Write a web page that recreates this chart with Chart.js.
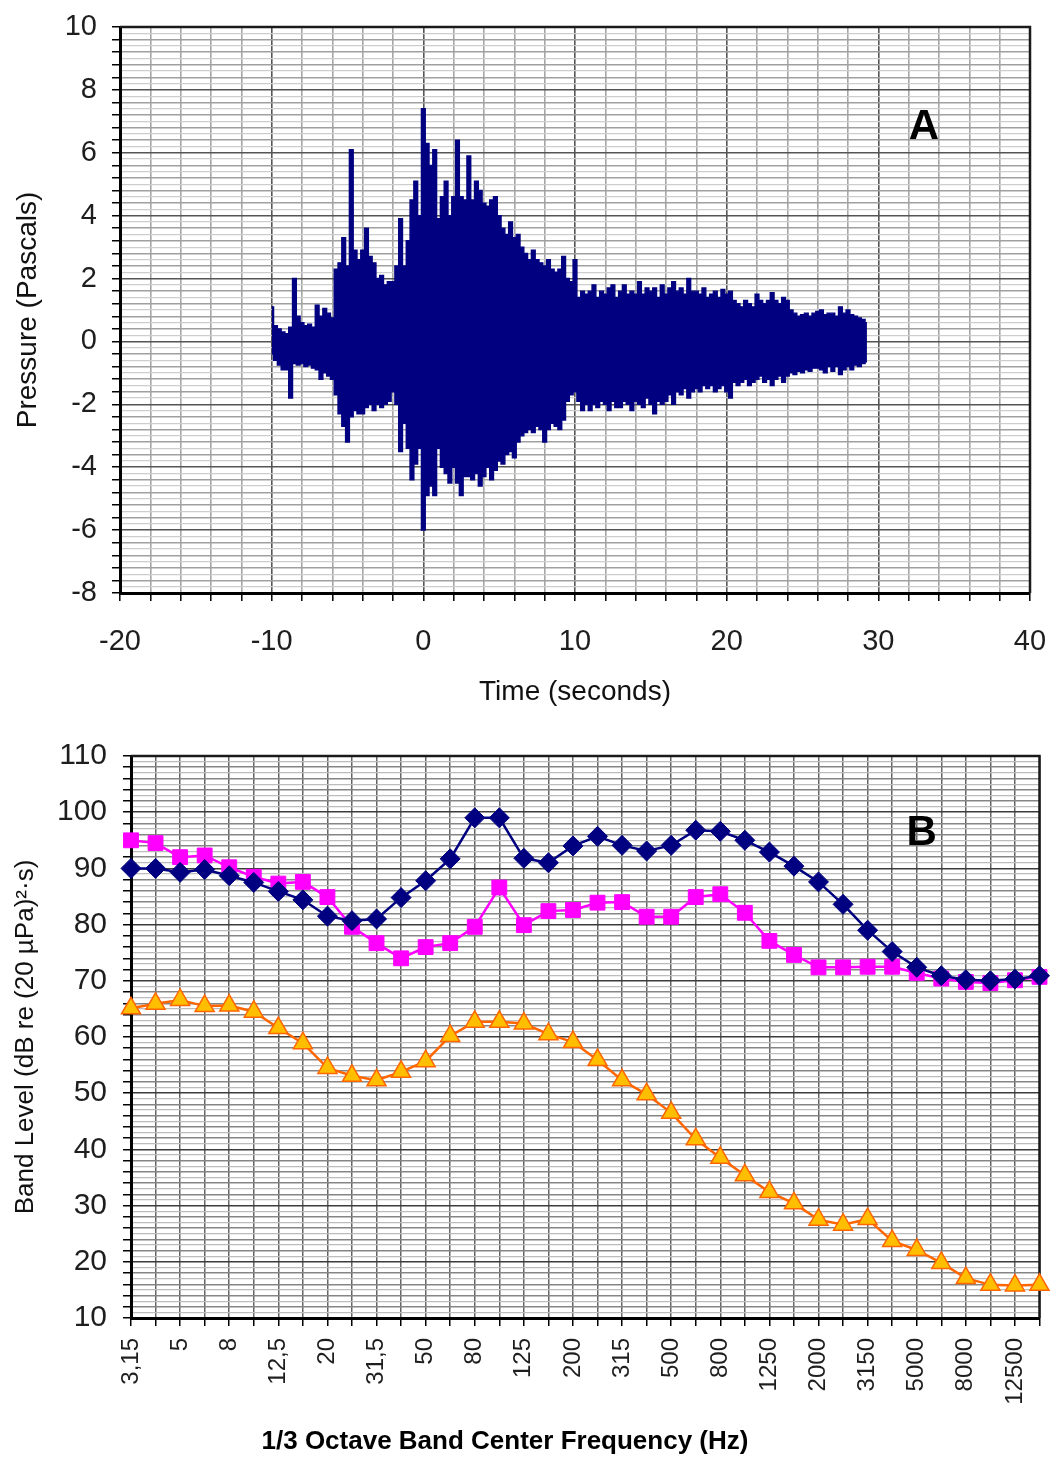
<!DOCTYPE html>
<html>
<head>
<meta charset="utf-8">
<script src="https://cdn.jsdelivr.net/npm/chart.js@4/dist/chart.umd.min.js"></script>
<style>
  body { margin: 0; background: #fff; }
  #page { position: relative; width: 1052px; height: 1458px; }
  #waveChart { position: absolute; left: 0; top: 0; }
  #bandChart { position: absolute; left: 0; top: 720px; }
  #bandTitle {
    position: absolute; left: 0; top: 1425px; width: 1010px;
    text-align: center; font: bold 26px 'Liberation Sans', Arial, sans-serif; color: #000;
  }
</style>
</head>
<body>
<div id="page">
  <canvas id="waveChart" width="1052" height="720"></canvas>
  <canvas id="bandChart" width="1052" height="738"></canvas>
  <div id="bandTitle">1/3 Octave Band Center Frequency (Hz)</div>
</div>
<script>
// Pressure trace: upper and lower swing in each 0.25 s slot, starting at -10 s
var traceStart = -10;
var traceStep = 0.25;
var traceHigh = [
  1.1, 0.5, 0.4, 0.3,      0.25, 0.45, 2.0, 0.8,    0.6, 0.5, 0.55, 0.45,    1.15, 0.8, 1.05, 0.9,
  0.75, 2.3, 2.5, 3.3,     2.4, 6.1, 2.9, 2.6,      2.9, 3.6, 2.7, 2.5,      2.0, 2.1, 1.8, 1.9,
  1.9, 2.4, 3.9, 2.4,      3.2, 4.5, 5.1, 4.0,      7.4, 6.3, 5.6, 6.1,      3.9, 4.6, 5.1, 4.0,
  4.6, 6.4, 4.6, 4.5,      5.9, 4.5, 5.1, 4.8,      4.4, 4.3, 4.5, 4.6,      4.0, 3.6, 3.4, 3.8,
  3.3, 3.4, 3.0, 2.8,      2.6, 2.9, 2.6, 2.5,      2.4, 2.6, 2.3, 2.2,      2.3, 2.7, 2.0, 1.9,
  2.6, 1.4, 1.6, 1.5,      1.6, 1.8, 1.4, 1.6,      1.5, 1.7, 1.8, 1.4,      1.6, 1.8, 1.5, 1.6,
  1.5, 1.9, 1.5, 1.7,      1.6, 1.7, 1.4, 1.8,      1.5, 1.7, 1.9, 1.6,      1.7, 1.5, 2.0, 1.6,
  1.6, 1.5, 1.7, 1.4,      1.5, 1.6, 1.4, 1.65,     1.5, 1.6, 1.3, 1.2,      1.1, 1.3, 1.2, 1.1,
  1.5, 1.3, 1.2, 1.3,      1.55, 1.3, 1.2, 1.4,     1.3, 1.0, 0.9, 0.8,      0.85, 0.9, 0.8, 0.9,
  0.95, 1.0, 0.85, 0.9,    0.9, 0.8, 1.1, 0.9,      1.0, 0.85, 0.8, 0.75,    0.7, 0.6
];
var traceLow = [
  -0.4, -0.6, -0.75, -0.9, -0.9, -1.8, -0.7, -0.75, -0.7, -0.8, -0.75, -0.85, -0.9, -1.2, -1.0, -1.1,
  -1.2, -1.7, -2.3, -2.7,  -3.2, -2.4, -2.2, -2.3,  -2.3, -2.1, -2.0, -2.2,   -2.0, -2.1, -2.0, -1.9,
  -1.6, -2.0, -3.5, -2.6,  -3.4, -4.4, -3.9, -3.4,  -6.0, -4.9, -4.6, -4.9,   -3.4, -4.0, -4.2, -4.5,
  -4.0, -4.5, -4.9, -4.3,  -4.3, -4.4, -4.2, -4.6,  -4.3, -4.0, -4.4, -4.1,   -3.8, -3.9, -3.6, -3.5,
  -3.7, -3.2, -3.0, -2.9,  -2.8, -2.9, -2.7, -2.8,  -3.2, -2.8, -2.6, -2.7,   -2.8, -2.5, -1.9, -1.7,
  -1.6, -1.9, -2.2, -2.0,  -2.2, -2.0, -2.1, -1.9,  -2.0, -2.2, -1.9, -2.1,   -2.1, -1.9, -2.0, -2.2,
  -1.9, -2.0, -2.1, -1.8,  -2.0, -2.3, -1.9, -2.0,  -1.9, -1.7, -2.0, -1.6,   -1.7, -1.5, -1.8, -1.6,
  -1.5, -1.6, -1.4, -1.5,  -1.4, -1.6, -1.5, -1.4,  -1.6, -1.8, -1.3, -1.4,   -1.3, -1.2, -1.4, -1.3,
  -1.2, -1.1, -1.3, -1.2,  -1.4, -1.2, -1.1, -1.3,  -1.1, -1.0, -1.05, -0.95, -1.0, -0.9, -0.95, -0.85,
  -0.85, -0.9, -1.0, -0.8, -0.95, -0.8, -1.05, -0.9, -0.8, -0.9, -0.75, -0.8, -0.7, -0.65
];
var timeLabels = [-20, -10, 0, 10, 20, 30, 40];
var pressureLabels = [-8, -6, -4, -2, 0, 2, 4, 6, 8, 10];

// 1/3 octave band levels
var bands = ['3,15', '4', '5', '6,3', '8', '10', '12,5', '16', '20', '25', '31,5', '40', '50', '63',
  '80', '100', '125', '160', '200', '250', '315', '400', '500', '630', '800', '1000', '1250', '1600',
  '2000', '2500', '3150', '4000', '5000', '6300', '8000', '10000', '12500', '16000'];
var levelNavy = [90.0, 90.0, 89.3, 89.8, 88.7, 87.5, 85.9, 84.4, 81.5, 80.7, 81.0, 84.8, 87.8, 91.7,
  99.0, 99.0, 91.8, 91.0, 94.0, 95.7, 94.1, 93.1, 94.1, 96.8, 96.6, 95.0, 92.9, 90.4,
  87.6, 83.6, 79.0, 75.2, 72.4, 70.9, 70.2, 70.0, 70.3, 70.9];
var levelPink = [95.0, 94.5, 92.0, 92.3, 90.2, 88.5, 87.3, 87.6, 84.9, 79.6, 76.7, 74.0, 76.0, 76.7,
  79.6, 86.6, 79.9, 82.4, 82.6, 83.9, 84.0, 81.4, 81.4, 84.9, 85.4, 82.1, 77.1, 74.6,
  72.4, 72.4, 72.5, 72.5, 71.4, 70.4, 69.8, 69.6, 70.1, 70.7];
var levelOrange = [65.1, 65.9, 66.6, 65.5, 65.6, 64.5, 61.6, 58.9, 54.5, 53.1, 52.3, 53.8, 55.7, 60.2,
  62.7, 62.7, 62.4, 60.5, 59.1, 55.9, 52.3, 49.8, 46.5, 41.8, 38.5, 35.4, 32.4, 30.4,
  27.5, 26.6, 27.6, 23.7, 22.1, 19.8, 17.1, 15.9, 15.8, 15.9];
var levelLabels = [10, 20, 30, 40, 50, 60, 70, 80, 90, 100, 110];

var navy = '#000080';
Chart.defaults.font.family = "'Liberation Sans', Arial, sans-serif";
Chart.defaults.color = '#1e1e1e';

// upper and lower outline of the trace, filled between each other
var traceTop = traceHigh.map(function (v, i) { return { x: traceStart + i * traceStep, y: v }; });
var traceBottom = traceLow.map(function (v, i) { return { x: traceStart + i * traceStep, y: v }; });

// grid positions
var timeGrid = [];
for (var t = -20; t <= 40; t += 2) timeGrid.push(t);
var pressureGrid = [];
for (var k = -40; k <= 50; k++) pressureGrid.push(k / 5);
var levelGrid = [];
for (var d = 10; d <= 110; d++) levelGrid.push(d);

// keep label overhang out of the layout so the plot box sits where padding puts it
function noSidePad(s) { s.paddingLeft = 0; s.paddingRight = 0; }
function noEndPad(s) { s.paddingTop = 0; s.paddingBottom = 0; }

// top and right edges of the plot box
var framePlugin = {
  id: 'frame',
  beforeDatasetsDraw: function (chart) {
    var a = chart.chartArea, c = chart.ctx;
    c.save();
    c.strokeStyle = '#1a1a1a';
    c.lineWidth = 2.5;
    c.beginPath();
    c.moveTo(a.left, a.top);
    c.lineTo(a.right, a.top);
    c.lineTo(a.right, a.bottom);
    c.stroke();
    c.restore();
  }
};

// panel letter placed in data coordinates
function letterPlugin(letter, xv, yv) {
  return {
    id: 'letter' + letter,
    afterDatasetsDraw: function (chart) {
      var c = chart.ctx;
      c.save();
      c.font = "bold 42px 'Liberation Sans', Arial, sans-serif";
      c.fillStyle = '#000';
      c.textAlign = 'center';
      c.textBaseline = 'middle';
      c.fillText(letter, chart.scales.x.getPixelForValue(xv), chart.scales.y.getPixelForValue(yv));
      c.restore();
    }
  };
}

new Chart(document.getElementById('waveChart'), {
  type: 'line',
  data: {
    datasets: [
      {
        data: traceTop,
        borderColor: navy, backgroundColor: navy,
        borderWidth: 1.4, pointRadius: 0, stepped: 'middle',
        fill: '+1'
      },
      {
        data: traceBottom,
        borderColor: navy, backgroundColor: navy,
        borderWidth: 1.4, pointRadius: 0, stepped: 'middle',
        fill: false
      }
    ]
  },
  options: {
    responsive: false,
    animation: false,
    events: [],
    devicePixelRatio: 1,
    layout: { padding: { top: 27, right: 22, left: 0, bottom: 0 } },
    plugins: { legend: { display: false }, tooltip: { enabled: false } },
    scales: {
      x: {
        type: 'linear', min: -20, max: 40,
        afterBuildTicks: function (s) { s.ticks = timeGrid.map(function (v) { return { value: v }; }); },
        afterFit: function (s) { s.height = 127; noSidePad(s); },
        grid: {
          z: -1,
          color: function (ctx) { return ctx.tick && ctx.tick.value % 10 === 0 ? '#555' : '#a6a6a6'; },
          lineWidth: 1.6,
          tickLength: 8,
          tickColor: '#000',
          tickWidth: 1.5
        },
        border: { color: '#000', width: 3 },
        ticks: {
          autoSkip: false, maxRotation: 0, padding: 24,
          font: { size: 29 },
          callback: function (v) { return timeLabels.indexOf(v) >= 0 ? String(v) : ''; }
        },
        title: { display: true, text: 'Time (seconds)', font: { size: 28 }, color: '#111', padding: { top: 0, bottom: 11 } }
      },
      y: {
        type: 'linear', min: -8, max: 10,
        afterBuildTicks: function (s) { s.ticks = pressureGrid.map(function (v) { return { value: v }; }); },
        afterFit: function (s) { s.width = 120; noEndPad(s); },
        grid: {
          z: -1,
          color: function (ctx) {
            var k = Math.round(ctx.tick.value * 5);
            if (k % 10 === 0) return '#555';
            return k % 2 === 0 ? '#a0a0a0' : '#cdcdcd';
          },
          lineWidth: function (ctx) {
            var k = Math.round(ctx.tick.value * 5);
            return k % 2 === 0 ? 1.5 : 1.2;
          },
          tickLength: 8,
          tickColor: function (ctx) {
            return Math.round(ctx.tick.value * 5) % 2 === 0 ? '#000' : 'rgba(0,0,0,0)';
          },
          tickWidth: 1.5
        },
        border: { color: '#000', width: 3 },
        ticks: {
          autoSkip: false, padding: 15,
          font: { size: 29 },
          callback: function (v) {
            var r = Math.round(v * 5) / 5;
            return pressureLabels.indexOf(r) >= 0 ? String(r) : '';
          }
        },
        title: { display: true, text: 'Pressure (Pascals)', font: { size: 28 }, color: '#111', padding: { top: 11, bottom: 0 } }
      }
    }
  },
  plugins: [framePlugin, letterPlugin('A', 33, 6.8)]
});

new Chart(document.getElementById('bandChart'), {
  type: 'line',
  data: {
    labels: bands,
    datasets: [
      {
        data: levelNavy,
        borderColor: navy, backgroundColor: navy,
        borderWidth: 2.5, pointStyle: 'rectRot', pointRadius: 10, pointBorderWidth: 1
      },
      {
        data: levelPink,
        borderColor: '#ff00ff', backgroundColor: '#ff00ff',
        borderWidth: 2.5, pointStyle: 'rect', pointRadius: 10.5, pointBorderWidth: 1
      },
      {
        data: levelOrange,
        borderColor: '#ff6600', backgroundColor: '#ffbf00',
        borderWidth: 2.5, pointStyle: 'triangle', pointRadius: 11, pointBorderWidth: 1.5
      }
    ]
  },
  options: {
    responsive: false,
    animation: false,
    events: [],
    devicePixelRatio: 1,
    layout: { padding: { top: 36, right: 12, left: 0, bottom: 0 } },
    plugins: { legend: { display: false }, tooltip: { enabled: false } },
    scales: {
      x: {
        afterFit: function (s) { s.height = 140; noSidePad(s); },
        grid: {
          z: -1,
          color: '#666',
          lineWidth: 1.5,
          tickLength: 8,
          tickColor: '#000',
          tickWidth: 1.5
        },
        border: { color: '#000', width: 3 },
        ticks: {
          autoSkip: false, minRotation: 90, maxRotation: 90, padding: 12,
          font: { size: 24 },
          callback: function (v, i) { return i % 2 === 0 ? bands[i] : ''; }
        }
      },
      y: {
        type: 'linear', min: 10, max: 110,
        afterBuildTicks: function (s) { s.ticks = levelGrid.map(function (v) { return { value: v }; }); },
        afterFit: function (s) { s.width = 131; noEndPad(s); },
        grid: {
          z: -1,
          color: function (ctx) {
            var v = ctx.tick.value;
            if (v % 10 === 0) return '#3c3c3c';
            return v % 2 === 0 ? '#858585' : '#bcbcbc';
          },
          lineWidth: function (ctx) { return ctx.tick.value % 2 === 0 ? 1.5 : 1.2; },
          tickLength: 8,
          tickColor: function (ctx) { return ctx.tick.value % 2 === 0 ? '#000' : 'rgba(0,0,0,0)'; },
          tickWidth: 1.5
        },
        border: { color: '#000', width: 3 },
        ticks: {
          autoSkip: false, padding: 16,
          font: { size: 30 },
          callback: function (v) { return levelLabels.indexOf(v) >= 0 ? String(v) : ''; }
        },
        title: {
          display: true, text: 'Band Level (dB re (20 µPa)²·s)',
          font: { size: 26 }, color: '#111', padding: { top: 10, bottom: 0 }
        }
      }
    }
  },
  plugins: [framePlugin, letterPlugin('B', 32.2, 96.3)]
});
</script>
</body>
</html>
